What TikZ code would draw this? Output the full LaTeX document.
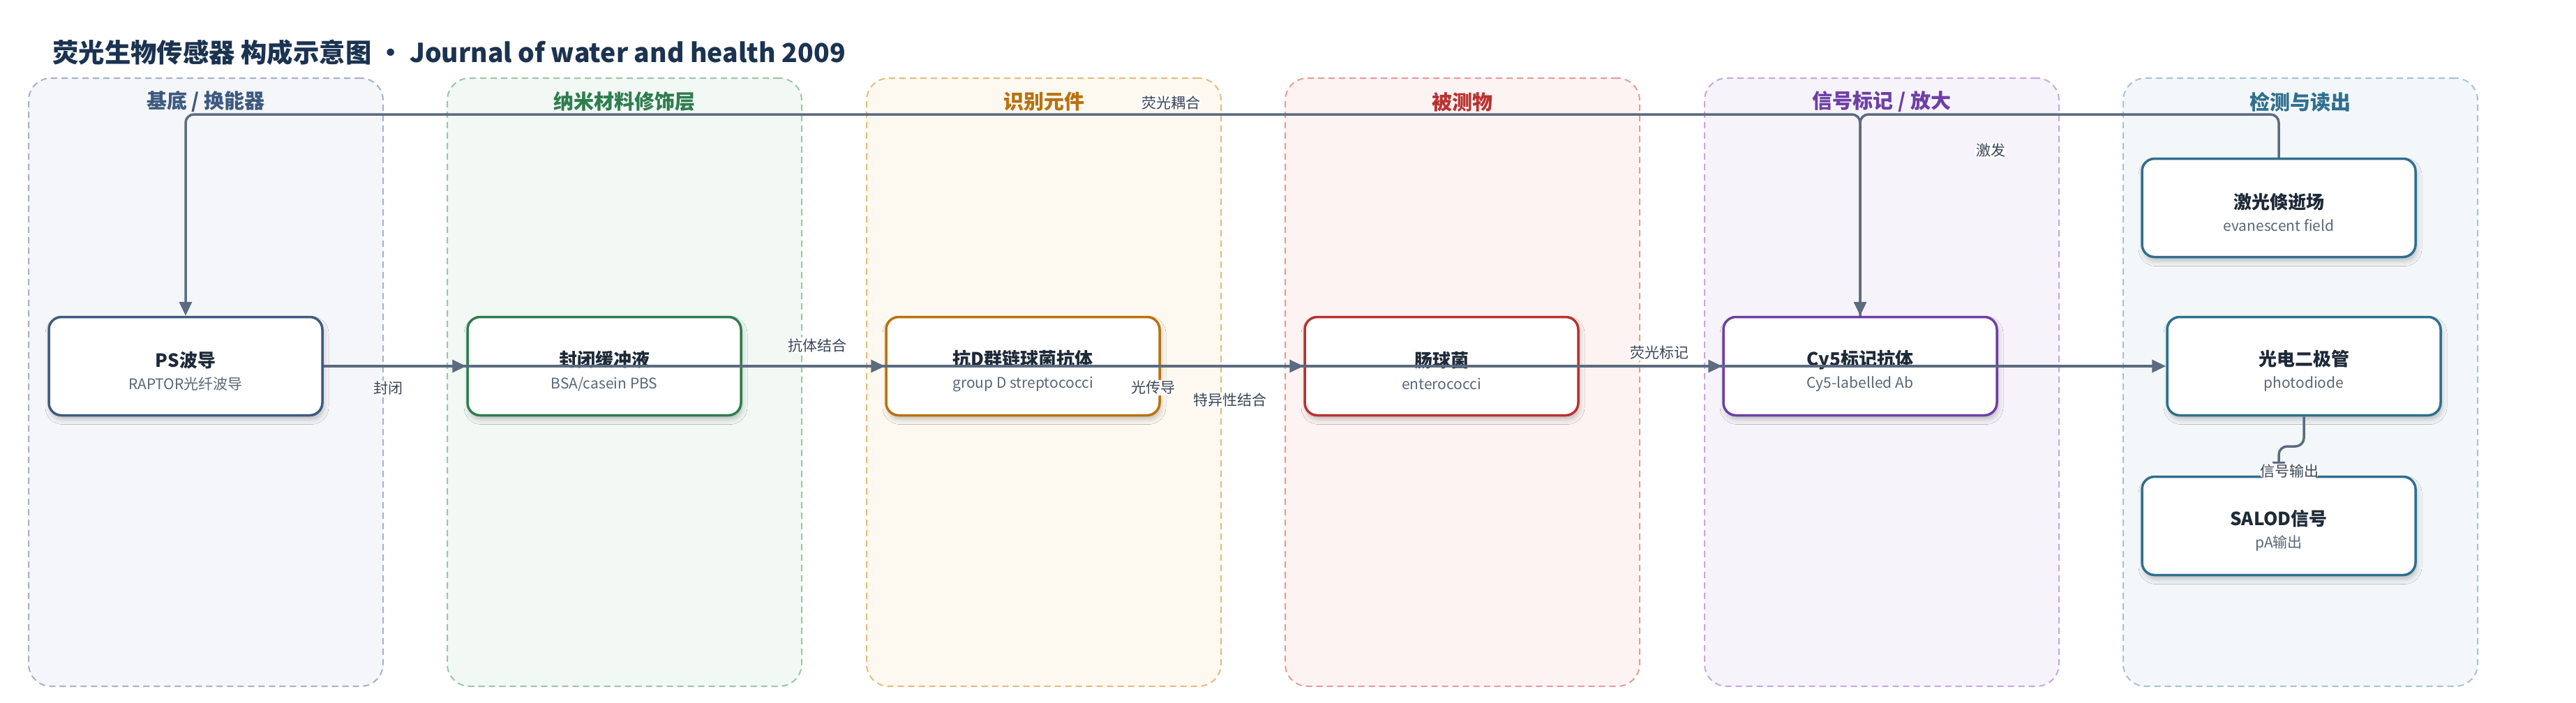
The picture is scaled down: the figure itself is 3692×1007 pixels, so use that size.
\documentclass[tikz,border=0pt]{standalone}
\usepackage{fontspec}
\setmainfont{Noto Sans CJK SC}
\usetikzlibrary{arrows.meta,shadows.blur}
\definecolor{edgec}{HTML}{5B6B80}
\definecolor{ttlc}{HTML}{1E2A38}
\definecolor{subc}{HTML}{5A6678}
\definecolor{lblc}{HTML}{3A4556}
\definecolor{headc}{HTML}{1B3350}
\definecolor{fa}{HTML}{F5F6FA}\definecolor{ba}{HTML}{A5B2C6}\definecolor{ta}{HTML}{3D5A80}
\definecolor{fb}{HTML}{F2F8F4}\definecolor{bb}{HTML}{9CC5A8}\definecolor{tb}{HTML}{2E7D4F}
\definecolor{fc}{HTML}{FDF8F0}\definecolor{bc}{HTML}{E3BC7C}\definecolor{tc}{HTML}{B8720E}
\definecolor{fd}{HTML}{FDF3F2}\definecolor{bd}{HTML}{E49C99}\definecolor{td}{HTML}{B83230}
\definecolor{fe}{HTML}{F7F3FB}\definecolor{be}{HTML}{C5A8E0}\definecolor{te}{HTML}{6D3FA5}
\definecolor{ff}{HTML}{F3F7F9}\definecolor{bf}{HTML}{A5C4D2}\definecolor{tf}{HTML}{2F6F8E}
\newcommand\nodetitle[1]{{\rule{0pt}{36pt}\fontsize{26}{30}\selectfont\bfseries\color{ttlc}#1}}
\newcommand\nodesub[1]{{\fontsize{21}{30}\selectfont\color{subc}#1}}
\begin{document}
\begin{tikzpicture}[x=1pt,y=-1pt,
  lane/.style={draw, dash pattern=on 9pt off 6pt, line width=2pt, rounded corners=32pt,
    minimum width=508pt, minimum height=872pt, inner sep=0pt},
  lanetitle/.style={font=\fontsize{29}{34}\selectfont\bfseries, inner sep=0pt},
  box/.style={draw, line width=3.5pt, fill=white, rounded corners=18pt,
    minimum width=392pt, minimum height=141pt, inner sep=0pt, align=center,
    font=\fontsize{21}{30}\selectfont,
    blur shadow={shadow xshift=2pt, shadow yshift=-6pt, shadow blur radius=7pt, shadow opacity=22}},
  conn/.style={draw=edgec, line width=3.5pt, rounded corners=12pt,
    -{Triangle[length=20pt,width=18pt]}},
  lbl/.style={font=\fontsize{21}{25}\selectfont, text=lblc, fill=white, inner sep=1.5pt}
]
\useasboundingbox (0,0) rectangle (3692,1007);
\fill[white] (0,0) rectangle (3692,1007);
% title
\node[anchor=west, font=\fontsize{37.4}{44}\selectfont\bfseries, text=headc, inner sep=0pt] (title) at (75,75)
  {荧光生物传感器 构成示意图 · Journal of water and health 2009};
% lanes
\node[lane, draw=ba, fill=fa] (lane1) at (295,548) {};
\node[lane, draw=bb, fill=fb] (lane2) at (895,548) {};
\node[lane, draw=bc, fill=fc] (lane3) at (1496,548) {};
\node[lane, draw=bd, fill=fd] (lane4) at (2096,548) {};
\node[lane, draw=be, fill=fe] (lane5) at (2697,548) {};
\node[lane, draw=bf, fill=ff] (lane6) at (3297,548) {};
\node[lanetitle, text=ta] (lt1) at (295,146) {基底 / 换能器};
\node[lanetitle, text=tb] (lt2) at (895,146) {纳米材料修饰层};
\node[lanetitle, text=tc] (lt3) at (1496,146) {识别元件};
\node[lanetitle, text=td] (lt4) at (2096,146) {被测物};
\node[lanetitle, text=te] (lt5) at (2697,146) {信号标记 / 放大};
\node[lanetitle, text=tf] (lt6) at (3297,146) {检测与读出};
% boxes
\node[box, draw=ta] (ps) at (266,525) {\nodetitle{PS波导}\\[2pt]\nodesub{RAPTOR光纤波导}};
\node[box, draw=tb] (blk) at (866,525) {\nodetitle{封闭缓冲液}\\[2pt]\nodesub{BSA/casein PBS}};
\node[box, draw=tc] (ab) at (1466,525) {\nodetitle{抗D群链球菌抗体}\\[2pt]\nodesub{group D streptococci}};
\node[box, draw=td] (ent) at (2066,525) {\nodetitle{肠球菌}\\[2pt]\nodesub{enterococci}};
\node[box, draw=te] (cy5) at (2666,525) {\nodetitle{Cy5标记抗体}\\[2pt]\nodesub{Cy5-labelled Ab}};
\node[box, draw=tf] (pd) at (3302,525) {\nodetitle{光电二极管}\\[2pt]\nodesub{photodiode}};
\node[box, draw=tf] (laser) at (3266,298) {\nodetitle{激光倏逝场}\\[2pt]\nodesub{evanescent field}};
\node[box, draw=tf] (salod) at (3266,754) {\nodetitle{SALOD信号}\\[2pt]\nodesub{pA输出}};
% helper coordinates
\coordinate (topy) at (0,164);
\coordinate (midy) at (0,640);
% connectors
\draw[conn] (ps.east) -- (blk.west) node[lbl] (l1) at (556,557) {封闭};
\draw[conn] (blk.west) -- (ab.west) node[lbl] (l2) at (1171,495) {抗体结合};
\draw[conn] (ab.west) -- (ent.west) node[lbl] (l3) at (1763,574) {特异性结合};
\draw[conn] (ent.west) -- (cy5.west) node[lbl] (l4) at (2378,506) {荧光标记};
\draw[conn] (ps.east) -- (pd.west) node[lbl] (l5) at (1653,556) {光传导};
\draw[conn] (cy5.north) -- (cy5.north |- topy) -| (ps.north) node[lbl] (l6) at (1678,147) {荧光耦合};
\draw[conn] (laser.north) -- (laser.north |- topy) -| (cy5.north) node[lbl] (l7) at (2853,216) {激发};
\draw[conn] (pd.south) -- (pd.south |- midy) -| (salod.north) node[lbl] (l8) at (3281,676) {信号输出};
\end{tikzpicture}
\end{document}
